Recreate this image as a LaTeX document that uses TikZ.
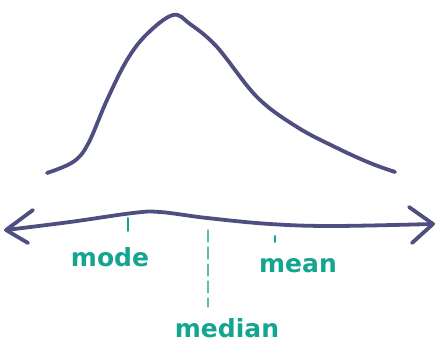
\documentclass[tikz,border=0pt]{standalone}
\usepackage{fontspec}
\setmainfont{DejaVu Sans}
\definecolor{ink}{RGB}{78,78,128}
\definecolor{tealink}{RGB}{20,165,145}
\tikzset{
  pen/.style={draw=ink, line width=3.8pt, line cap=round, line join=round},
  lbl/.style={text=tealink, font=\fontsize{25}{28}\selectfont\bfseries, inner sep=0pt},
  tick/.style={draw=tealink, line width=2pt, line cap=round}
}
\begin{document}
\begin{tikzpicture}[x=1pt,y=-1pt]
\useasboundingbox (0,0) rectangle (440,355);
% distribution curve
\draw[pen] plot[smooth, tension=0.6] coordinates {
 (47,173) (73,162) (88,144) (107,100) (127,60) (147,34) (173,15) (190,24)
 (217,47) (257,97) (297,127) (337,148) (370,163) (395,172)};
% axis
\coordinate (L) at (6,230);
\coordinate (R) at (433,224);
\draw[pen] plot[smooth, tension=0.6] coordinates {
 (L) (70,222) (133,213) (160,212) (207,218) (270,224) (333,226) (R)};
\draw[pen] (33,210) -- (L) -- (28,243);
\draw[pen] (409,207) -- (R) -- (412,243);
% ticks
\coordinate (modeT) at (128,218);
\coordinate (medT) at (208,230);
\coordinate (meanT) at (275,236);
\draw[tick] (modeT) -- ++(0,13);
\draw[tick, line width=1.2pt, dash pattern=on 12pt off 5pt, draw=tealink!70] (medT) -- ++(0,77);
\draw[tick] (meanT) -- ++(0,6);
% labels
\node[lbl] (mode) at (110,257) {mode};
\node[lbl] (mean) at (298,266) {mean};
\node[lbl] (median) at (227,328) {median};
\end{tikzpicture}
\end{document}
